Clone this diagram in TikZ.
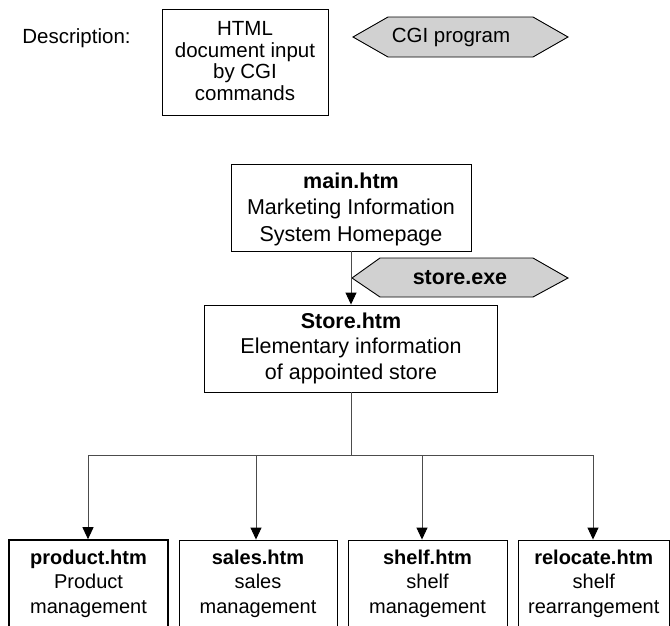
\documentclass[tikz,border=0pt]{standalone}
\usepackage{fontspec}
\setmainfont{Liberation Sans}
\usetikzlibrary{arrows.meta}
\begin{document}
\begin{tikzpicture}[x=1pt,y=-1pt,
  box/.style={draw=black, line width=0.9pt, inner sep=0pt, fill=white},
  conn/.style={draw=black!70, line width=0.9pt},
  arr/.style={conn, -{Triangle[length=12pt,width=11pt,black]}},
  hexfill/.style={fill=black!18, draw=black, line width=0.9pt},
  lbl/.style={align=center, inner sep=0pt},
  toptxt/.style={lbl, font=\fontsize{20.5}{21.5}\selectfont},
  midtxt/.style={lbl, font=\fontsize{21.5}{26.5}\selectfont},
  bottxt/.style={lbl, font=\fontsize{20}{24.5}\selectfont},
]
\useasboundingbox (0,0) rectangle (670,625);
\begin{scope}
\clip (0,0) rectangle (670,625);

% legend
\node[toptxt] (desc) at (76.5,38) {Description:};
\node[box, minimum width=166pt, minimum height=106pt] (html) at (245,62) {};
\node[toptxt] (htmltxt) at (245,61) {HTML\\document input\\by CGI\\commands};
\draw[hexfill] (353,37) -- (388,17) -- (533,17) -- (568,37) -- (533,57) -- (388,57) -- cycle;
\node[toptxt] (cgi) at (451,37) {CGI program};

% main
\node[box, minimum width=240pt, minimum height=87pt] (main) at (351,207.5) {};
\node[midtxt] (maintxt) at (351,209) {\textbf{main.htm}\\Marketing Information\\System Homepage};

% store.exe
\draw[hexfill] (352,278) -- (380,258) -- (533,258) -- (568,278) -- (533,297) -- (380,297) -- cycle;
\node[midtxt] (exe) at (460,278) {\textbf{store.exe}};

% Store
\node[box, minimum width=293pt, minimum height=87pt] (store) at (351,348.5) {};
\node[midtxt, font=\fontsize{21.5}{25.5}\selectfont] (storetxt) at (351,348) {\textbf{Store.htm}\\Elementary information\\of appointed store};

\draw[arr] (main.south) -- (store.north);

% bottom boxes
\node[box, line width=1.6pt, minimum width=159pt, minimum height=100pt] (product) at (88.5,590) {};
\node[box, minimum width=158pt, minimum height=100pt] (sales) at (258,590) {};
\node[box, minimum width=159pt, minimum height=100pt] (shelf) at (427.5,590) {};
\node[box, minimum width=151.5pt, minimum height=100pt] (relocate) at (593.75,590) {};

\node[bottxt] (ptxt) at (88.5,583.5) {\textbf{product.htm}\\Product\\management};
\node[bottxt] (stxt) at (258,583.5) {\textbf{sales.htm}\\sales\\management};
\node[bottxt] (shtxt) at (427.5,583.5) {\textbf{shelf.htm}\\shelf\\management};
\node[bottxt] (rtxt) at (593.75,583.5) {\textbf{relocate.htm}\\shelf\\rearrangement};

% connectors
\coordinate (j) at (351,455);
\coordinate (h1) at (88,455);
\coordinate (h2) at (256,455);
\coordinate (h3) at (422,455);
\coordinate (h4) at (593,455);
\draw[conn] (store.south) -- (j);
\draw[conn] (h1) -- (h4);
\draw[arr] (h1) -- (h1 |- product.north);
\draw[arr] (h2) -- (h2 |- sales.north);
\draw[arr] (h3) -- (h3 |- shelf.north);
\draw[arr] (h4) -- (h4 |- relocate.north);
\end{scope}
\end{tikzpicture}
\end{document}
